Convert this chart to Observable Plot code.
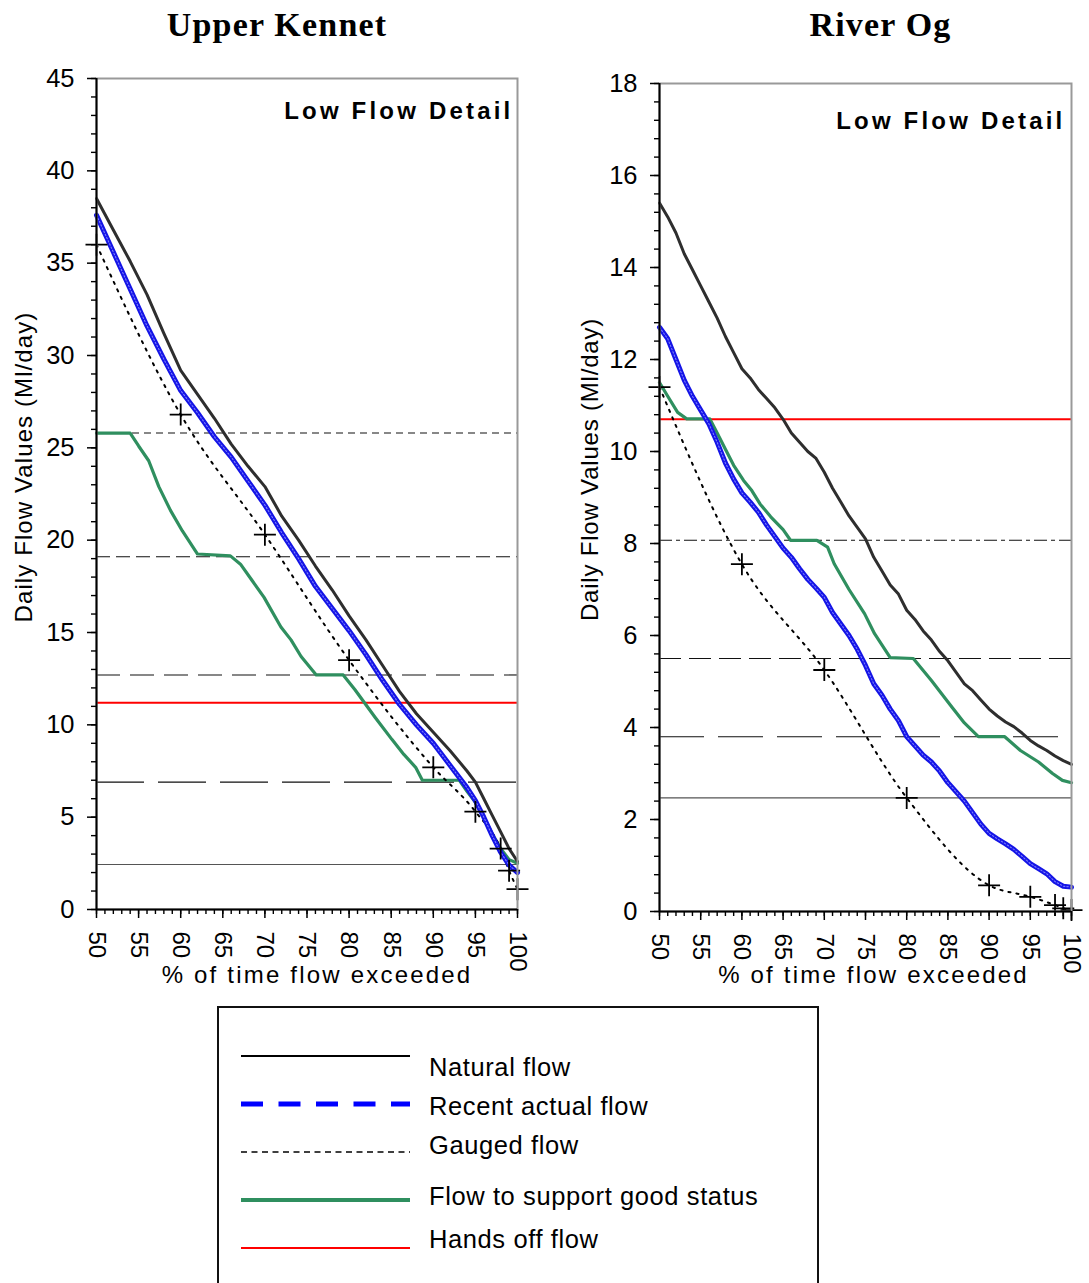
<!DOCTYPE html>
<html>
<head>
<meta charset="utf-8">
<script src="https://cdn.jsdelivr.net/npm/d3@7"></script>
<script src="https://cdn.jsdelivr.net/npm/@observablehq/plot@0.6"></script>
<style>
  body { margin: 0; background: #fff; }
  #wrap { position: relative; width: 1089px; height: 1283px; overflow: hidden; background: #fff; }
  .panel { position: absolute; top: 0; }
  #legend { position: absolute; left: 217px; top: 1006px; }
</style>
</head>
<body>
<div id="wrap">
  <div class="panel" id="p1" style="left:0px"></div>
  <div class="panel" id="p2" style="left:560px"></div>
  <div id="legend"></div>
</div>
<script>
// ---------------- DATA ----------------
const xMajor = [50, 55, 60, 65, 70, 75, 80, 85, 90, 95, 100];
const xMinor = d3.range(50, 101, 1);

// Upper Kennet
const kennetTitle = "Upper Kennet";
const kennetYTicks = [0, 5, 10, 15, 20, 25, 30, 35, 40, 45];
const kennetYMinor = d3.range(0, 46, 1);
const kennetNatural = [[50,38.5],[52,36.8],[54,35.1],[56,33.3],[58,31.2],[60,29.2],[62,27.9],[64,26.6],[66,25.2],[68,24.0],[70,22.9],[72,21.3],[74,20.0],[76,18.6],[78,17.3],[80,15.9],[82,14.6],[84,13.2],[86,11.8],[88,10.6],[90,9.6],[92,8.6],[94,7.5],[95,6.9],[96,6.0],[97,5.1],[98,4.2],[99,3.3],[100,2.6]];
const kennetActual = [[50,37.6],[52,35.6],[54,33.6],[56,31.6],[58,29.8],[60,28.1],[62,26.9],[64,25.6],[66,24.5],[68,23.2],[70,21.9],[72,20.4],[74,19.0],[76,17.5],[78,16.3],[80,15.1],[82,13.8],[84,12.4],[86,11.1],[88,10.0],[90,9.0],[92,7.8],[94,6.6],[95,5.9],[96,5.0],[97,4.0],[98,3.1],[99,2.4],[100,2.0]];
const kennetGauged = [[50,36.0],[60,26.8],[70,20.3],[80,13.5],[90,7.7],[95,5.3],[98,3.3],[99,2.1],[100,1.1]];
const kennetGood = [[50,25.8],[54,25.8],[55,25.1],[56.2,24.3],[57.4,22.9],[58.8,21.6],[60.2,20.5],[62,19.25],[65.9,19.15],[67.1,18.7],[68.5,17.8],[69.9,16.9],[71.9,15.3],[73.1,14.6],[74.3,13.7],[76.1,12.7],[79.3,12.7],[80.7,11.9],[83.1,10.4],[85.1,9.2],[86.5,8.4],[87.9,7.7],[88.7,7.0],[93.1,7.0],[94,6.4],[95,5.8],[96,5.0],[97,4.1],[98,3.3],[99,2.7],[100,2.5]];
const kennetHandsOff = 11.2;
const kennetLevels = [25.8, 19.1, 12.7, 6.9, 2.44];

// River Og
const ogTitle = "River Og";
const ogYTicks = [0, 2, 4, 6, 8, 10, 12, 14, 16, 18];
const ogYMinor = d3.range(0, 18.01, 0.4);
const ogNatural = [[50,15.4],[51,15.1],[52,14.75],[53,14.3],[54,13.95],[55,13.6],[56,13.25],[57,12.9],[58,12.5],[59,12.15],[60,11.8],[61,11.6],[62,11.35],[63,11.15],[64,10.95],[65,10.7],[66,10.4],[67,10.2],[68,10.0],[69,9.85],[70,9.55],[71,9.2],[72,8.9],[73,8.6],[74,8.35],[75,8.1],[76,7.7],[77,7.4],[78,7.1],[79,6.9],[80,6.55],[81,6.35],[82,6.1],[83,5.9],[84,5.65],[85,5.45],[86,5.2],[87,4.95],[88,4.8],[89,4.6],[90,4.4],[91,4.25],[92,4.12],[93,4.02],[94,3.88],[95,3.72],[96,3.6],[97,3.5],[98,3.38],[99,3.28],[100,3.2]];
const ogActual = [[50,12.7],[51,12.45],[52,12.0],[53,11.55],[54,11.2],[55,10.9],[56,10.6],[57,10.2],[58,9.75],[59,9.4],[60,9.1],[61,8.9],[62,8.68],[63,8.4],[64,8.15],[65,7.9],[66,7.7],[67,7.45],[68,7.22],[69,7.03],[70,6.83],[71,6.5],[72,6.25],[73,6.0],[74,5.7],[75,5.35],[76,4.95],[77,4.7],[78,4.4],[79,4.15],[80,3.8],[81,3.6],[82,3.4],[83,3.25],[84,3.05],[85,2.8],[86,2.6],[87,2.4],[88,2.15],[89,1.9],[90,1.7],[91,1.58],[92,1.47],[93,1.35],[94,1.2],[95,1.04],[96,0.93],[97,0.82],[98,0.65],[99,0.55],[100,0.53]];
const ogGauged = [[50,11.4],[60,7.55],[70,5.25],[80,2.47],[90,0.57],[95,0.32],[98,0.14],[99,0.07],[100,0.03]];
const ogGood = [[50,11.5],[51,11.2],[52.2,10.85],[53.3,10.71],[56.1,10.71],[57,10.4],[58,10.05],[59,9.7],[60.2,9.37],[61.2,9.15],[62.2,8.86],[63.5,8.58],[65,8.3],[65.9,8.07],[69.1,8.07],[70.4,7.92],[71.2,7.56],[73,7.0],[74.9,6.47],[76.1,6.04],[78.0,5.52],[80.8,5.5],[83,5.02],[85.5,4.44],[87,4.1],[88.7,3.8],[91.9,3.8],[93.8,3.5],[96,3.25],[97.7,3.0],[98.9,2.85],[100,2.8]];
const ogHandsOff = 10.7;
const ogLevels = [8.07, 5.5, 3.8, 2.47];

const panelTag = "Low Flow Detail";
const xLabel = "% of time flow exceeded";
const yLabel = "Daily Flow Values (Ml/day)";

const legendNames = ["Natural flow", "Recent actual flow", "Gauged flow", "Flow to support good status", "Hands off flow"];

// ---------------- STYLES ----------------
const kennetDash = ["7,5", "14,6", "24,10", "48,14", null];
const ogDash = ["13,4,4,4", "22,8", "45,14", null];
const SANS = "Liberation Sans, Arial, sans-serif";
const SERIF = "Liberation Serif, Times New Roman, serif";

const plusSymbol = {
  draw(ctx, size) {
    const r = Math.sqrt(size / Math.PI);
    ctx.moveTo(-r, 0); ctx.lineTo(r, 0);
    ctx.moveTo(0, -r); ctx.lineTo(0, r);
  }
};

function makePanel(c) {
  const X = d => d[0], Y = d => d[1];
  const marks = [];
  c.levels.forEach((lv, i) => {
    const dash = c.dash[i];
    marks.push(Plot.ruleY([lv], dash
      ? {stroke: "#111", strokeWidth: 1.1, strokeDasharray: dash}
      : {stroke: "#555", strokeWidth: 1.1}));
  });
  marks.push(Plot.ruleY([c.handsOff], {stroke: "#ff0000", strokeWidth: 2}));
  marks.push(Plot.line(c.good, {x: X, y: Y, stroke: "#2f8f5f", strokeWidth: 3.2}));
  marks.push(Plot.line(c.natural, {x: X, y: Y, stroke: "#2e2e2e", strokeWidth: 3}));
  marks.push(Plot.line(c.gauged, {x: X, y: Y, stroke: "#000", strokeWidth: 2, strokeDasharray: "2.2,6", curve: "monotone-x"}));
  marks.push(Plot.line(c.actual, {x: X, y: Y, stroke: "#1414e6", strokeWidth: 5}));
  marks.push(Plot.line(c.actual, {x: X, y: Y, stroke: "#7a7aff", strokeWidth: 1.1, strokeDasharray: "1.5,2"}));
  marks.push(Plot.dot(c.gauged, {x: X, y: Y, symbol: plusSymbol, r: 11, stroke: "#000", strokeWidth: 1.8, fill: "none"}));
  marks.push(Plot.frame({stroke: "#999", strokeWidth: 2}));
  marks.push(Plot.ruleX([50], {stroke: "#000", strokeWidth: 2}));
  marks.push(Plot.ruleY([0], {stroke: "#000", strokeWidth: 2}));
  marks.push(Plot.axisY({ticks: c.yMinor, tickSize: 5, tickFormat: () => "", label: null, strokeWidth: 1.4}));
  marks.push(Plot.axisY({ticks: c.yTicks, tickSize: 9, tickPadding: 13, fontSize: 25.5, label: null, strokeWidth: 1.5}));
  marks.push(Plot.axisX({ticks: xMinor, tickSize: 5, tickFormat: () => "", label: null, strokeWidth: 1.4}));
  marks.push(Plot.axisX({ticks: xMajor, tickSize: 9, tickPadding: 13, tickRotate: 90, fontSize: 24, label: null, strokeWidth: 1.5}));
  marks.push(Plot.text([c.title], {frameAnchor: "top", lineAnchor: "bottom", dx: c.titleDx, dy: c.titleDy, fontSize: 34, fontWeight: "bold", fontFamily: SERIF, fill: "#000"}));
  marks.push(Plot.text([panelTag], {frameAnchor: "top-right", textAnchor: "end", lineAnchor: "bottom", dx: c.tagDx, dy: c.tagDy, fontSize: 24, fontWeight: "bold", fontFamily: SANS, fill: "#000"}));
  marks.push(Plot.text([yLabel], {frameAnchor: "left", textAnchor: "middle", rotate: -90, lineAnchor: "bottom", dx: c.ylDx, dy: c.ylDy, fontSize: 24, fontFamily: SANS, fill: "#000"}));
  marks.push(Plot.text([xLabel], {frameAnchor: "bottom", textAnchor: "middle", lineAnchor: "bottom", dx: c.xlDx, dy: c.xlDy, fontSize: 24, fontFamily: SANS, fill: "#000"}));

  const svg = Plot.plot({
    width: c.width, height: 1000,
    marginTop: c.mt, marginBottom: 1000 - c.yBottom, marginLeft: c.ml, marginRight: c.mr,
    x: {domain: [50, 100]},
    y: {domain: [0, c.yMax]},
    style: {fontFamily: SANS, color: "#000", background: "#fff", overflow: "visible"},
    marks
  });
  d3.select(svg).selectAll("text").each(function() {
    const t = this.textContent;
    if (t === panelTag) this.style.letterSpacing = "3.2px";
    if (t === xLabel) this.style.letterSpacing = "2.2px";
    if (t === yLabel) this.style.letterSpacing = c.ylSpacing;
    if (t === c.title) this.style.letterSpacing = "1.2px";
  });
  return svg;
}

document.getElementById("p1").appendChild(makePanel({
  width: 540, mt: 78, yBottom: 909, ml: 96, mr: 23,
  yMax: 45, yTicks: kennetYTicks, yMinor: kennetYMinor,
  natural: kennetNatural, actual: kennetActual, gauged: kennetGauged, good: kennetGood,
  handsOff: kennetHandsOff, levels: kennetLevels, dash: kennetDash,
  title: kennetTitle, titleDx: -30, titleDy: -43,
  tagDx: -4, tagDy: 40,
  ylDx: -65, ylDy: -27, ylSpacing: "1.1px", xlDx: 10, xlDy: 73
}));

document.getElementById("p2").appendChild(makePanel({
  width: 529, mt: 83, yBottom: 911, ml: 99, mr: 18,
  yMax: 18, yTicks: ogYTicks, yMinor: ogYMinor,
  natural: ogNatural, actual: ogActual, gauged: ogGauged, good: ogGood,
  handsOff: ogHandsOff, levels: ogLevels, dash: ogDash,
  title: ogTitle, titleDx: 15, titleDy: -48,
  tagDx: -6, tagDy: 45,
  ylDx: -62, ylDy: -28, ylSpacing: "0.8px", xlDx: 8, xlDy: 71
}));

// ---------------- LEGEND ----------------
const legendStyles = [
  {stroke: "#000", w: 2, dash: null},
  {stroke: "#0000ff", w: 5, dash: "22,15.5"},
  {stroke: "#000", w: 1.6, dash: "6,4.5"},
  {stroke: "#2f8f5f", w: 4, dash: null},
  {stroke: "#ff0000", w: 2, dash: null}
];
const legendLineY = [50, 98, 146, 194, 242];
const legendTextY = [70, 109, 148, 199, 242];
const lg = d3.select("#legend").append("svg").attr("width", 603).attr("height", 277);
lg.append("path").attr("d", "M1,277V1H601V277").attr("fill", "none").attr("stroke", "#111").attr("stroke-width", 2);
legendNames.forEach((name, i) => {
  const s = legendStyles[i];
  lg.append("line").attr("x1", 24).attr("x2", 193).attr("y1", legendLineY[i]).attr("y2", legendLineY[i])
    .attr("stroke", s.stroke).attr("stroke-width", s.w).attr("stroke-dasharray", s.dash);
  lg.append("text").attr("x", 212).attr("y", legendTextY[i]).text(name)
    .attr("font-family", SANS).attr("font-size", 25.5).attr("letter-spacing", "0.6px").attr("fill", "#000");
});
</script>
</body>
</html>
